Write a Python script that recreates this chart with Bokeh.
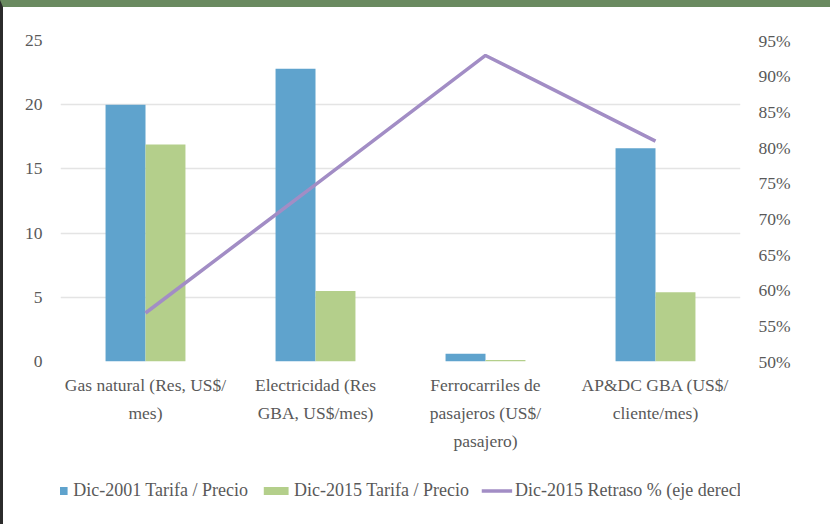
from bokeh.plotting import figure
from bokeh.layouts import column
from bokeh.models import (FactorRange, Range1d, LinearAxis, ColumnDataSource, Legend,
                          LegendItem, FixedTicker, PrintfTickFormatter)
from bokeh.transform import dodge
from bokeh.embed import file_html
from bokeh.resources import INLINE

categories = ["Gas natural (Res, US$/\nmes)",
              "Electricidad (Res\nGBA, US$/mes)",
              "Ferrocarriles de\npasajeros (US$/\npasajero)",
              "AP&DC GBA (US$/\ncliente/mes)"]
tarifa_2001 = [20.0, 22.8, 0.6, 16.6]
tarifa_2015 = [16.9, 5.5, 0.12, 5.4]
retraso_2015 = [56.8, 74.8, 92.9, 80.9]
left_ticks = [0, 5, 10, 15, 20, 25]
right_ticks = [50, 55, 60, 65, 70, 75, 80, 85, 90, 95]
series_names = ["Dic-2001 Tarifa / Precio", "Dic-2015 Tarifa / Precio",
                "Dic-2015 Retraso % (eje derecho)"]

FONT = "Liberation Serif"
TXT = "#595959"
BLUE = "#5fa3cd"
GREEN = "#b4cf8b"
PURPLE = "#a28dc5"

src = ColumnDataSource(dict(cat=categories, a=tarifa_2001, b=tarifa_2015, r=retraso_2015))

p = figure(x_range=FactorRange(*categories), y_range=Range1d(0, 25),
           width=827, height=449,
           min_border_left=57, min_border_top=33, min_border_right=90, min_border_bottom=95,
           output_backend="svg", toolbar_location=None, outline_line_color=None)
p.extra_y_ranges = {"pct": Range1d(50, 95)}

p.vbar(x=dodge("cat", -0.1175, range=p.x_range), top="a", width=0.235, source=src,
       color=BLUE, line_color=None)
p.vbar(x=dodge("cat", 0.1175, range=p.x_range), top="b", width=0.235, source=src,
       color=GREEN, line_color=None)
p.line(x="cat", y="r", source=src, y_range_name="pct", line_color=PURPLE, line_width=3.5)

p.yaxis.ticker = FixedTicker(ticks=left_ticks)
p.ygrid.ticker = FixedTicker(ticks=left_ticks)
p.ygrid.grid_line_color = "#e4e4e4"
p.ygrid.grid_line_width = 1.5
p.xgrid.grid_line_color = None

ax_r = LinearAxis(y_range_name="pct", ticker=FixedTicker(ticks=right_ticks),
                  formatter=PrintfTickFormatter(format="%d%%"))
p.add_layout(ax_r, "right")

for ax in [p.yaxis[0], ax_r, p.xaxis[0]]:
    ax.axis_line_color = None
    ax.major_tick_line_color = None
    ax.minor_tick_line_color = None
    ax.major_label_text_font = FONT
    ax.major_label_text_font_size = "17.5px"
    ax.major_label_text_color = TXT
p.yaxis[0].major_label_standoff = 12
ax_r.major_label_standoff = 12
p.xaxis[0].major_label_standoff = 7
p.xaxis[0].major_label_text_line_height = 1.4

# legend strip below the chart (proxy glyphs fall outside its ranges, so only the legend shows)
q = figure(width=827, height=68, x_range=Range1d(0, 1), y_range=Range1d(0, 1),
           x_axis_type=None, y_axis_type=None, min_border=0,
           output_backend="svg", toolbar_location=None, outline_line_color=None)
q.grid.visible = False
la = q.rect(x="r", y="r", width=0.1, height=0.1, source=src, color=BLUE, line_color=None)
lb = q.rect(x="r", y="r", width=0.1, height=0.1, source=src, color=GREEN, line_color=None)
lc = q.line(x="r", y="r", source=src, line_color=PURPLE, line_width=3.5)

legend = Legend(items=[LegendItem(label=series_names[0], renderers=[la], index=0),
                       LegendItem(label=series_names[1], renderers=[lb], index=0),
                       LegendItem(label=series_names[2], renderers=[lc], index=0)],
                orientation="horizontal", location="center",
                label_text_font=FONT, label_text_font_size="18px", label_text_color=TXT,
                glyph_width=31, glyph_height=10, spacing=12, label_standoff=3,
                border_line_color=None, background_fill_alpha=0, padding=4, margin=0)
q.add_layout(legend, "center")

layout = column(p, q, spacing=0)
layout.styles = {"border-top": "7px solid #6a8a60", "border-left": "3px solid #2b2b2b"}
open("out.html", "w").write(file_html(layout, INLINE))
